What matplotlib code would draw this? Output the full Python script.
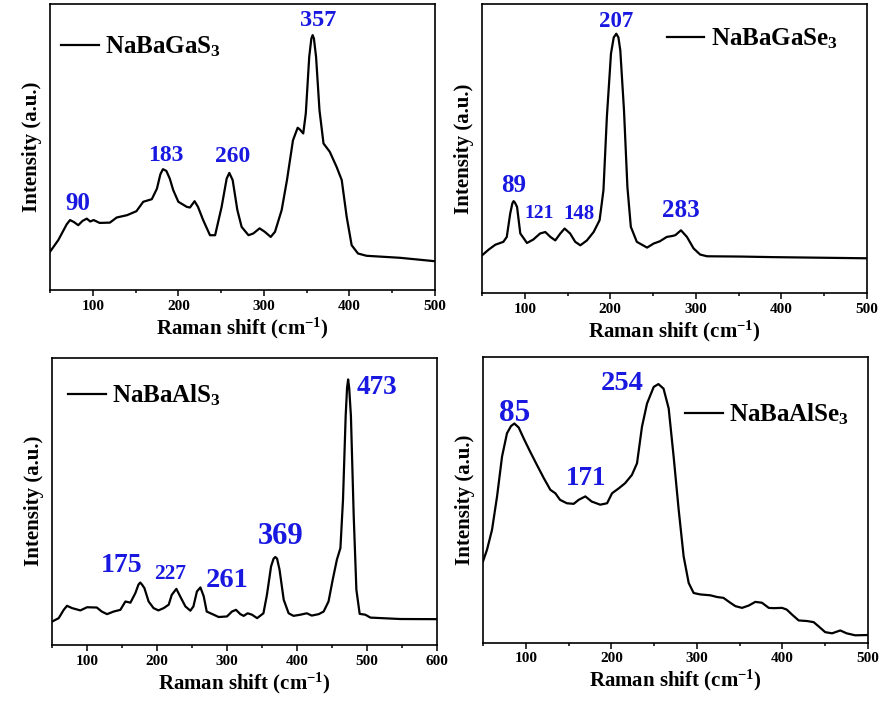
import numpy as np
import matplotlib.pyplot as plt

plt.rcParams['font.family'] = 'Liberation Serif'
plt.rcParams['font.weight'] = 'bold'
plt.rcParams['mathtext.fontset'] = 'custom'
plt.rcParams['mathtext.rm'] = 'Liberation Serif:bold'
plt.rcParams['mathtext.bf'] = 'Liberation Serif:bold'
plt.rcParams['mathtext.it'] = 'Liberation Serif:bold'

# NaBaGaS3 spectrum (intensity 0-100 of the panel height)
gas_shift = [50, 59.7, 69.5, 73.4, 78, 83, 88, 93, 97, 101, 108, 120, 128, 140, 151, 159, 169,
             175, 179, 182, 186, 190, 194, 200, 210, 213.6, 219, 223, 229, 237, 243, 250.6,
             256.5, 259.6, 263.5, 269, 274, 282, 287.6, 295, 301, 308, 313, 320.8, 327, 334,
             339.5, 342, 346, 349, 353, 355.5, 357, 358.5, 361, 365, 369.7, 377, 385, 391,
             396.8, 402.6, 410, 420, 459, 500]
gas_int = [13.4, 17.5, 23.0, 24.5, 23.8, 22.7, 24.2, 25.0, 24.0, 24.5, 23.5, 23.6, 25.4, 26.2,
           27.6, 30.9, 31.8, 35.5, 40.5, 42.3, 41.7, 39.0, 35.0, 30.9, 29.1, 28.9, 31.1, 29.1,
           24.5, 19.2, 19.2, 29.1, 39.0, 41.0, 38.5, 28.0, 22.1, 19.2, 19.8, 21.6, 20.4, 18.6,
           20.4, 28.0, 38.5, 52.4, 56.8, 56.2, 54.8, 61.8, 81.6, 88.0, 89.2, 88.0, 81.6, 62.9,
           51.3, 48.4, 43.1, 38.5, 25.6, 15.7, 12.8, 12.0, 11.3, 10.1]
gas_peaks = [90, 183, 260, 357]
gas_lab_x = [83, 185, 263.5, 363.6]
gas_lab_y = [30.3, 47.2, 46.6, 94.4]
gas_lab_size = [18, 17, 17, 17.5]

# NaBaGaSe3 spectrum
gase_shift = [50, 57.8, 65.6, 75, 79, 83, 85.5, 87, 88.5, 91, 94.8, 102.6, 110, 118, 124, 130,
              135.7, 141.6, 146.6, 153, 159, 165, 172.7, 180.5, 187.5, 192, 196, 200.8, 204,
              207, 209.5, 211.7, 216, 220, 224, 231, 243, 250.6, 258, 266, 272, 276, 282.6,
              289.6, 297.4, 305, 313, 352, 391, 500]
gase_int = [13.0, 15.0, 16.7, 17.7, 19.4, 27.5, 31.0, 31.8, 31.3, 29.8, 20.6, 17.3, 18.5, 20.6,
            21.1, 19.4, 18.2, 20.6, 22.3, 20.6, 17.7, 16.5, 18.2, 21.1, 25.2, 35.6, 61.0, 82.9,
            88.5, 89.8, 88.5, 84.0, 63.3, 36.7, 22.9, 17.7, 15.7, 17.1, 17.9, 19.4, 19.7, 20.0,
            21.7, 19.4, 15.4, 13.3, 12.7, 12.6, 12.4, 12.0]
gase_peaks = [89, 121, 148, 207, 283]
gase_lab_x = [87, 117, 164, 207, 282.6]
gase_lab_y = [37.3, 27.5, 27.5, 93.9, 28.6]
gase_lab_size = [18, 14, 15, 16.5, 18]

# NaBaAlS3 spectrum
als_shift = [50, 59.5, 66.7, 71.4, 78.6, 90.5, 100, 114, 121, 128.6, 138, 147.6, 154.8, 162,
             169, 173.5, 176, 178.5, 181.9, 188, 195, 202, 209.5, 216.7, 221, 227.6, 233,
             240.5, 247.6, 252, 257, 262, 266.7, 271, 281, 288, 300, 307, 312.8, 319, 323.8,
             329.5, 335.7, 343, 352, 357, 362.9, 366.5, 369, 371.5, 375, 381, 388, 395, 404.8,
             414, 421, 431, 438, 445, 451, 457, 462, 465.7, 469.5, 471.5, 473, 474.5, 477,
             481, 484.8, 489.5, 497.6, 504.8, 547.6, 600]
als_int = [8.1, 9.3, 12.2, 13.6, 12.8, 12.0, 13.1, 13.0, 11.6, 10.7, 11.6, 12.2, 15.1, 14.7,
           18.0, 21.0, 21.7, 21.0, 19.8, 15.1, 12.8, 12.0, 12.8, 14.0, 17.4, 19.5, 16.9, 13.4,
           11.9, 13.4, 18.6, 20.0, 16.9, 11.6, 10.5, 9.7, 9.9, 11.6, 12.2, 10.7, 10.1, 11.0,
           10.5, 9.3, 11.0, 17.4, 27.3, 30.0, 30.6, 30.0, 26.2, 15.7, 11.0, 10.1, 10.5, 11.0,
           10.2, 10.7, 11.6, 15.1, 22.7, 29.7, 33.7, 50.6, 79.7, 89.5, 92.4, 89.5, 79.7, 44.8,
           19.2, 10.8, 10.5, 9.5, 9.0, 8.95]
als_peaks = [175, 227, 261, 369, 473]
als_lab_x = [149, 219, 300, 376, 514]
als_lab_y = [27.6, 24.8, 22.3, 37.8, 89.5]
als_lab_size = [20, 15.5, 20.5, 22, 19.5]

# NaBaAlSe3 spectrum
alse_shift = [50, 54.7, 60.5, 66.4, 72.2, 78, 82.7, 86.6, 91.7, 97.5, 105, 113, 121, 128.7,
              134.5, 140, 148, 156, 161.8, 169.6, 177, 187, 195, 200.8, 208.6, 216, 224, 230,
              235.8, 241.7, 249.5, 255, 261, 267, 272.8, 278.7, 284.5, 290.4, 296.2, 304,
              315.7, 323.5, 331, 339, 345, 352.7, 360.5, 368.3, 376, 384, 389.7, 399.5, 405,
              411, 419, 428.7, 436.5, 442, 450, 458, 467.6, 475, 485, 500]
alse_int = [28.5, 32.6, 39.5, 51.2, 65.1, 73.3, 75.8, 76.7, 75.3, 71.5, 66.9, 62.2, 57.6, 53.5,
            52.3, 50.0, 48.8, 48.6, 50.0, 51.2, 49.4, 48.3, 48.8, 52.3, 54.0, 55.8, 58.7, 62.8,
            75.6, 83.7, 89.5, 90.5, 88.9, 82.0, 65.1, 46.5, 30.2, 20.9, 17.4, 16.9, 16.6, 16.0,
            15.7, 14.0, 12.8, 12.2, 13.0, 14.3, 14.0, 12.2, 12.1, 12.2, 11.6, 9.9, 7.8, 7.6,
            7.2, 5.8, 3.7, 3.3, 4.3, 3.3, 2.6, 2.7]
alse_peaks = [85, 171, 254]
alse_lab_x = [86.6, 170.8, 212.5]
alse_lab_y = [80.2, 57.6, 90.7]
alse_lab_size = [22.5, 19.5, 20.5]

panels = [
    ('NaBaGaS$_3$', gas_shift, gas_int, gas_peaks, gas_lab_x, gas_lab_y, gas_lab_size,
     500, [0.0565, 0.592, 0.435, 0.402], (0.029, 0.85)),
    ('NaBaGaSe$_3$', gase_shift, gase_int, gase_peaks, gase_lab_x, gase_lab_y, gase_lab_size,
     500, [0.5446, 0.588, 0.435, 0.406], (0.48, 0.879)),
    ('NaBaAlS$_3$', als_shift, als_int, als_peaks, als_lab_x, als_lab_y, als_lab_size,
     600, [0.0588, 0.093, 0.435, 0.404], (0.042, 0.868)),
    ('NaBaAlSe$_3$', alse_shift, alse_int, alse_peaks, alse_lab_x, alse_lab_y, alse_lab_size,
     500, [0.5458, 0.096, 0.435, 0.402], (0.525, 0.80)),
]

blue = '#1818e0'

fig = plt.figure(figsize=(8.85, 7.11), dpi=100)

for name, xs, ys, peaks, lx, ly, lsize, xmax, rect, leg_pos in panels:
    ax = fig.add_axes(rect)
    ax.plot(xs, ys, color='black', lw=1.6, label=name, solid_joinstyle='round')
    for p, x, y, s in zip(peaks, lx, ly, lsize):
        ax.text(x, y, str(p), color=blue, fontsize=s, fontweight='bold',
                ha='center', va='center')
    ax.set_xlim(50, xmax)
    ax.set_ylim(0, 100)
    ax.set_xticks(np.arange(100, xmax + 1, 100))
    ax.set_xticks(np.arange(50, xmax + 1, 50), minor=True)
    ax.set_yticks([])
    ax.tick_params(axis='x', which='major', length=4, width=1.1, labelsize=11, pad=3)
    ax.tick_params(axis='x', which='minor', length=2.5, width=1.1)
    for sp in ax.spines.values():
        sp.set_linewidth(1.2)
    ax.set_xlabel('Raman shift (cm$^{-1}$)', fontsize=15, fontweight='bold', labelpad=2)
    ax.set_ylabel('Intensity (a.u.)', fontsize=15, fontweight='bold', labelpad=6)
    leg = ax.legend(loc='center left', bbox_to_anchor=leg_pos, frameon=False,
                    fontsize=18, handlelength=1.5, handletextpad=0.25,
                    borderpad=0, borderaxespad=0)

fig.savefig('out.png', dpi=100)
